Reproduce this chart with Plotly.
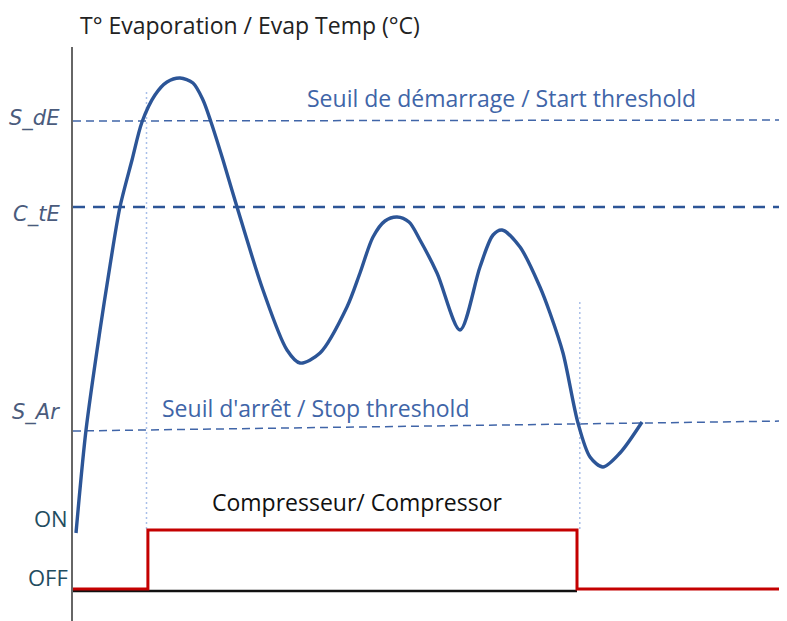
import plotly.graph_objects as go

# ---- data (time in arbitrary units, temperature in arbitrary units) ----
evap_time = [0.43, 1.86, 3.86, 5.3, 6.71, 8.43, 9.86, 11.71, 13.43, 15.29, 17.14, 18.57,
             19.71, 21.43, 23.43, 27.14, 30.57, 32.43, 35.29, 39.14, 41.0, 42.86,
             44.57, 46.29, 48.0, 49.57, 52.0, 55.29, 58.14, 60.0, 61.29, 63.86,
             66.71, 68.14, 70.0, 72.14, 73.86, 75.71, 78.14, 81.29]
evap_temp = [11.6, 32.2, 52.2, 65.2, 76.8, 86.2, 93.8, 99.2, 101.8, 102.6, 101.6, 98.2,
             93.8, 86.2, 76.8, 60.2, 48.2, 45.6, 47.6, 56.8, 63.6, 70.8,
             74.0, 74.8, 73.8, 70.2, 63.6, 52.2, 64.8, 71.2, 72.2, 68.8,
             60.8, 55.6, 47.6, 33.6, 26.8, 24.8, 27.6, 33.8]

thr_time = [0.0, 102.0]
s_de = [94.0, 94.2]        # start threshold
c_te = [76.8, 76.8]        # C_tE level
s_ar = [32.0, 34.0]        # stop threshold

comp_time = [0.0, 10.7, 72.0, 102.0]
comp_state = [0, 1, 0, 0]   # OFF / ON

t_on, t_off = 10.5, 72.4
tick_labels = ["S_dE", "C_tE", "S_Ar"]
state_labels = ["ON", "OFF"]

BLUE = "#2c5597"
TBLUE = "#4065a8"
RED = "#c40000"

fig = go.Figure()

# thresholds
fig.add_trace(go.Scatter(x=thr_time, y=s_de, mode="lines",
                         line=dict(color=TBLUE, width=1.5, dash="8px,5px"), hoverinfo="skip"))
fig.add_trace(go.Scatter(x=thr_time, y=c_te, mode="lines",
                         line=dict(color=BLUE, width=2.5, dash="12px,8px"), hoverinfo="skip"))
fig.add_trace(go.Scatter(x=thr_time, y=s_ar, mode="lines",
                         line=dict(color=TBLUE, width=1.5, dash="8px,5px"), hoverinfo="skip"))

# vertical dotted switch lines
fig.add_trace(go.Scatter(x=[t_on, t_on], y=[99.8, 12.4], mode="lines",
                         line=dict(color="#a9bfe9", width=1.5, dash="2px,3px"), hoverinfo="skip"))
fig.add_trace(go.Scatter(x=[t_off, t_off], y=[57.8, 12.4], mode="lines",
                         line=dict(color="#a9bfe9", width=1.5, dash="2px,3px"), hoverinfo="skip"))

# black baseline
fig.add_trace(go.Scatter(x=[0, comp_time[2]], y=[0, 0], mode="lines",
                         line=dict(color="#111111", width=2.5), hoverinfo="skip"))

# compressor step (second axis)
fig.add_trace(go.Scatter(x=comp_time, y=comp_state, mode="lines", yaxis="y2",
                         line=dict(color=RED, width=3, shape="hv"), hoverinfo="skip"))

# evaporation curve
fig.add_trace(go.Scatter(x=evap_time, y=evap_temp, mode="lines",
                         line=dict(color=BLUE, width=3.4, shape="spline", smoothing=0.85),
                         hoverinfo="skip"))

FONT = "Open Sans"
ann = []
ann.append(dict(text="T° Evaporation / Evap Temp (°C)", xref="paper", yref="paper",
                x=0.007, y=1.038, xanchor="left", yanchor="middle", showarrow=False,
                font=dict(family=FONT, size=23, color="#222222")))
ann.append(dict(text="Seuil de démarrage / Start threshold", xref="x", yref="y",
                x=33.14, y=98.6, xanchor="left", yanchor="middle", showarrow=False,
                font=dict(family=FONT, size=23, color=TBLUE)))
ann.append(dict(text="Seuil d'arrêt / Stop threshold", xref="x", yref="y",
                x=12.43, y=36.6, xanchor="left", yanchor="middle", showarrow=False,
                font=dict(family=FONT, size=23, color=TBLUE)))
ann.append(dict(text="Compresseur/ Compressor", xref="x", yref="y",
                x=19.57, y=17.8, xanchor="left", yanchor="middle", showarrow=False,
                font=dict(family=FONT, size=23, color="#111111")))
for lab, yv in zip(tick_labels, [s_de[0] + 0.6, c_te[0] - 1.4, s_ar[0] + 3.8]):
    ann.append(dict(text="<i>" + lab + "</i>", xref="paper", yref="y",
                    x=-11 / 714, y=yv, xanchor="right", yanchor="middle", showarrow=False,
                    font=dict(family="DejaVu Sans", size=21, color="#4a5b7c")))
for lab, yv in zip(state_labels, [1, 0]):
    ann.append(dict(text=lab, xref="paper", yref="y2",
                    x=-3 / 714, y=yv + 0.2, xanchor="right", yanchor="middle", showarrow=False,
                    font=dict(family=FONT, size=22, color="#1f4d60")))

# page body has an 8px margin: size/margins chosen so plot area spans x 73..787, y 47..621
fig.update_layout(
    width=779, height=613,
    margin=dict(l=65, r=0, t=39, b=0, pad=0),
    paper_bgcolor="white", plot_bgcolor="white",
    showlegend=False,
    annotations=ann,
    xaxis=dict(range=[0, 102], showgrid=False, zeroline=False, showticklabels=False,
               showline=False, ticks=""),
    yaxis=dict(range=[-6, 108.8], showgrid=False, zeroline=False, showticklabels=False,
               showline=True, linecolor="#666666", linewidth=2, ticks=""),
    yaxis2=dict(range=[-0.542, 9.187], overlaying="y", showgrid=False, zeroline=False,
                showticklabels=False, showline=False, ticks=""),
)

fig.write_html("out.html")
